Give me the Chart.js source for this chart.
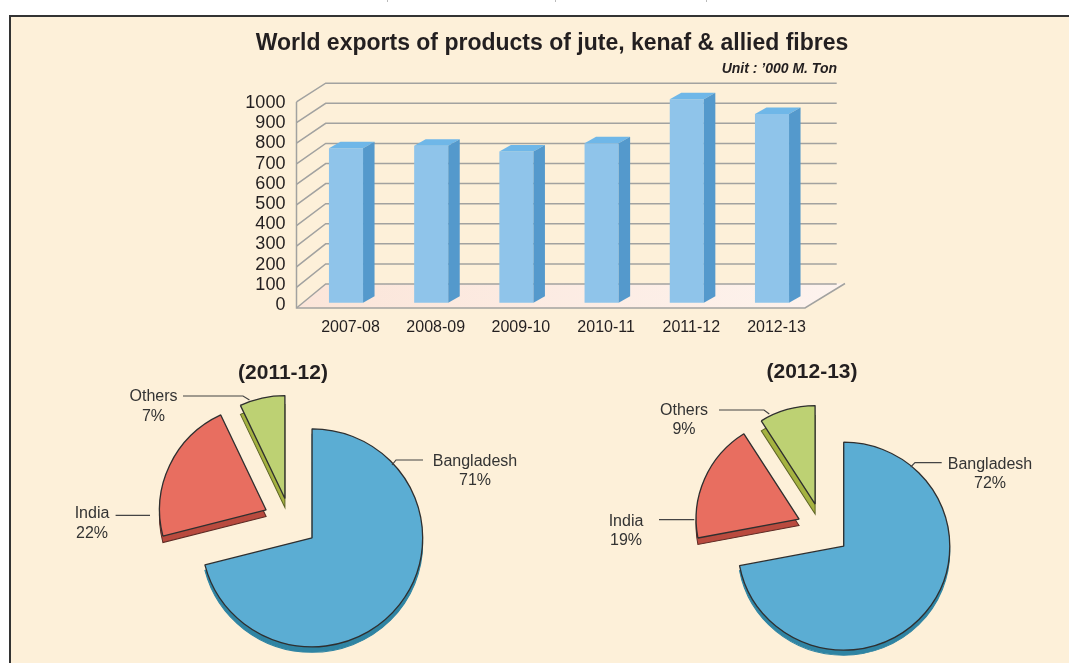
<!DOCTYPE html>
<html>
<head>
<meta charset="utf-8">
<title>World exports of products of jute, kenaf & allied fibres</title>
<script src="https://cdn.jsdelivr.net/npm/chart.js@4/dist/chart.umd.min.js"></script>
<style>
  html, body { margin:0; padding:0; width:1069px; height:663px; overflow:hidden; background:#fff; }
  #panel { position:absolute; left:9px; top:15px; right:0; bottom:0; background:#fdf0d9; border-top:2px solid #333; border-left:2px solid #333; }
  .crop { position:absolute; top:0; width:1px; height:2px; background:#bbb; }
  canvas { position:absolute; left:0; top:0; }
</style>
</head>
<body>
<div class="crop" style="left:387px"></div>
<div class="crop" style="left:555px"></div>
<div class="crop" style="left:706px"></div>
<div id="panel"></div>
<canvas id="chartBars" width="1069" height="663"></canvas>
<canvas id="chartPie1" width="1069" height="663"></canvas>
<canvas id="chartPie2" width="1069" height="663"></canvas>
<script>
const years = ['2007-08', '2008-09', '2009-10', '2010-11', '2011-12', '2012-13'];
const exportsTon = [764, 777, 748, 789, 1007, 934];
const yTicks = [0, 100, 200, 300, 400, 500, 600, 700, 800, 900, 1000];

const pieCategories = ['Bangladesh', 'India', 'Others'];
const shares1112 = [71, 22, 7];
const shares1213 = [72, 19, 9];

const pieColors = ['#5badd3', '#e86e60', '#bdd173'];
const sideColors = ['#2f84a3', '#b94a3e', '#a5b240'];
const sideLines = ['#2f84a3', '#5e2a24', '#5d6426'];

const FONT = '"Liberation Sans", Arial, sans-serif';
const INK = '#231f20';

function note(ctx, text, x, y, font, align, color){
  ctx.save();
  ctx.font = font;
  ctx.textAlign = align || 'center';
  ctx.textBaseline = 'middle';
  ctx.fillStyle = color || INK;
  ctx.fillText(text, x, y + 1);
  ctx.restore();
}

function polyPath(ctx, pts){
  ctx.beginPath();
  pts.forEach((p, i) => i ? ctx.lineTo(p[0], p[1]) : ctx.moveTo(p[0], p[1]));
}

// back wall, side wall and floor of the fake 3d box
const box3d = {
  id: 'box3d',
  beforeDatasetsDraw(chart){
    const { ctx } = chart;
    const y = chart.scales.y;
    const zero = y.getPixelForValue(0);
    const frontX = 296.5, backX = 325.7, backEnd = 836.7;
    const frontY = v => 308 + (y.getPixelForValue(v) - zero) * 1.02;
    const backY = v => 284 + (y.getPixelForValue(v) - zero) * 0.994;

    const floor = ctx.createLinearGradient(frontX, 0, 845, 0);
    floor.addColorStop(0, '#fbe5d9');
    floor.addColorStop(1, '#fdf3ee');
    polyPath(ctx, [[frontX, 308], [805, 308], [845, 283.5], [backX, 284]]);
    ctx.fillStyle = floor;
    ctx.fill();

    ctx.lineWidth = 1.5;
    ctx.strokeStyle = '#a2a2a0';
    yTicks.forEach(v => {
      polyPath(ctx, [[frontX, frontY(v)], [backX, backY(v)], [backEnd, backY(v)]]);
      ctx.stroke();
    });
    polyPath(ctx, [[frontX, frontY(1000)], [frontX, 308], [805, 308], [845, 283.5]]);
    ctx.stroke();
  },
  afterDatasetsDraw(chart){
    const { ctx } = chart;
    const dx = 11.5, dy = 6.5;
    chart.getDatasetMeta(0).data.forEach(bar => {
      const l = bar.x - bar.width / 2, r = bar.x + bar.width / 2;
      polyPath(ctx, [[l, bar.y], [l + dx, bar.y - dy], [r + dx, bar.y - dy], [r, bar.y]]);
      ctx.fillStyle = '#6fb7e8';
      ctx.fill();
      polyPath(ctx, [[r, bar.y], [r + dx, bar.y - dy], [r + dx, bar.base - dy], [r, bar.base]]);
      ctx.fillStyle = '#5499cc';
      ctx.fill();
    });
  },
  afterDraw(chart){
    note(chart.ctx, 'World exports of products of jute, kenaf & allied fibres', 552, 43, 'bold 23px ' + FONT);
    note(chart.ctx, 'Unit : ’000 M. Ton', 837, 68, 'italic bold 14px ' + FONT, 'right');
  }
};

new Chart(document.getElementById('chartBars').getContext('2d'), {
  type: 'bar',
  data: {
    labels: years,
    datasets: [{ label: "'000 M. Ton", data: exportsTon, backgroundColor: '#8fc4ea', barPercentage: 0.8, categoryPercentage: 0.5, clip: false }]
  },
  plugins: [box3d],
  options: {
    responsive: false,
    animation: false,
    layout: { padding: { top: 100.7, right: 254.4, bottom: 320.3, left: 0 } },
    plugins: { legend: { display: false }, tooltip: { enabled: false } },
    scales: {
      x: {
        grid: { display: false, drawTicks: false },
        border: { display: false },
        ticks: { color: INK, font: { family: FONT, size: 16 }, padding: 15, labelOffset: 4.5, maxRotation: 0, autoSkip: false },
        afterFit(s){ s.height = 40; }
      },
      y: {
        min: 0,
        max: 1000,
        grid: { display: false, drawTicks: false },
        border: { display: false },
        ticks: { color: INK, font: { family: FONT, size: 18 }, stepSize: 100, padding: 18, labelOffset: 2.4, autoSkip: false, callback: v => String(v) },
        afterFit(s){ s.width = 303.4; }
      }
    }
  }
});

// pull the slices apart, lift them and draw the side wall underneath
function pieLook(look){
  const stretch = ctx => {
    ctx.translate(look.centre[0], look.centre[1]);
    ctx.scale(look.stretch, 1);
    ctx.translate(-look.centre[0], -look.centre[1]);
  };
  return {
    id: 'pieLook',
    afterDatasetsUpdate(chart){
      chart.getDatasetMeta(0).data.forEach((arc, i) => {
        const mid = (arc.startAngle + arc.endAngle) / 2;
        arc.x += Math.cos(mid) * look.explode[i];
        arc.y += Math.sin(mid) * look.explode[i];
        arc.outerRadius = look.radii[i];
      });
    },
    beforeDatasetsDraw(chart){
      const { ctx } = chart;
      ctx.save();
      stretch(ctx);
      chart.getDatasetMeta(0).data.forEach((arc, i) => {
        const h = look.depth[i];
        ctx.beginPath();
        ctx.moveTo(arc.x, arc.y + h);
        ctx.arc(arc.x, arc.y + h, arc.outerRadius, arc.startAngle, arc.endAngle);
        ctx.closePath();
        ctx.fillStyle = sideColors[i];
        ctx.strokeStyle = sideLines[i];
        ctx.lineWidth = 1;
        ctx.fill();
        ctx.stroke();
      });
    },
    afterDatasetsDraw(chart){
      chart.ctx.restore();
    },
    afterDraw(chart){
      const { ctx } = chart;
      const shares = chart.data.datasets[0].data;
      note(ctx, look.heading, look.headingAt[0], look.headingAt[1], 'bold 21px ' + FONT);
      pieCategories.forEach((cat, i) => {
        const at = look.labelsAt[i];
        note(ctx, cat, at[0], at[1], '16px ' + FONT, 'center', '#333');
        note(ctx, shares[i] + '%', at[0], at[2], '16px ' + FONT, 'center', '#333');
        polyPath(ctx, look.leaders[i]);
        ctx.strokeStyle = '#444';
        ctx.lineWidth = 1.2;
        ctx.stroke();
      });
    }
  };
}

function makePie(canvasId, shares, look){
  const [cx, cy] = look.centre;
  return new Chart(document.getElementById(canvasId).getContext('2d'), {
    type: 'pie',
    data: {
      labels: pieCategories,
      datasets: [{ data: shares, backgroundColor: pieColors, borderColor: '#2f2f2f', borderWidth: 1.3, clip: false }]
    },
    plugins: [pieLook(look)],
    options: {
      responsive: false,
      animation: false,
      layout: { padding: { left: cx - 100, right: 1069 - cx - 100, top: cy - 100, bottom: 663 - cy - 100 } },
      plugins: { legend: { display: false }, tooltip: { enabled: false } }
    }
  });
}

makePie('chartPie1', shares1112, {
  heading: '(2011-12)',
  headingAt: [283, 372],
  centre: [290, 521],
  stretch: 1.015,
  explode: [27.5, 26, 23],
  radii: [109, 105, 103],
  depth: [5.5, 6.5, 9],
  labelsAt: [[475, 461, 480], [92, 513, 533], [153.5, 396, 416]],
  leaders: [
    [[423, 460], [396, 460], [392, 465]],
    [[115.6, 515.3], [150, 515.3]],
    [[183, 396], [243, 396], [249.5, 400]]
  ]
});

makePie('chartPie2', shares1213, {
  heading: '(2012-13)',
  headingAt: [812, 371.7],
  centre: [822.5, 529],
  stretch: 1.02,
  explode: [27, 25, 26],
  radii: [104, 101, 98.5],
  depth: [5, 6.5, 10],
  labelsAt: [[990, 463.3, 482.7], [626, 520.7, 540], [684, 410, 429]],
  leaders: [
    [[941.7, 462.7], [915, 462.7], [910.7, 467]],
    [[659, 519.7], [694.3, 519.7]],
    [[719, 410], [764, 410], [769.3, 414]]
  ]
});
</script>
</body>
</html>
